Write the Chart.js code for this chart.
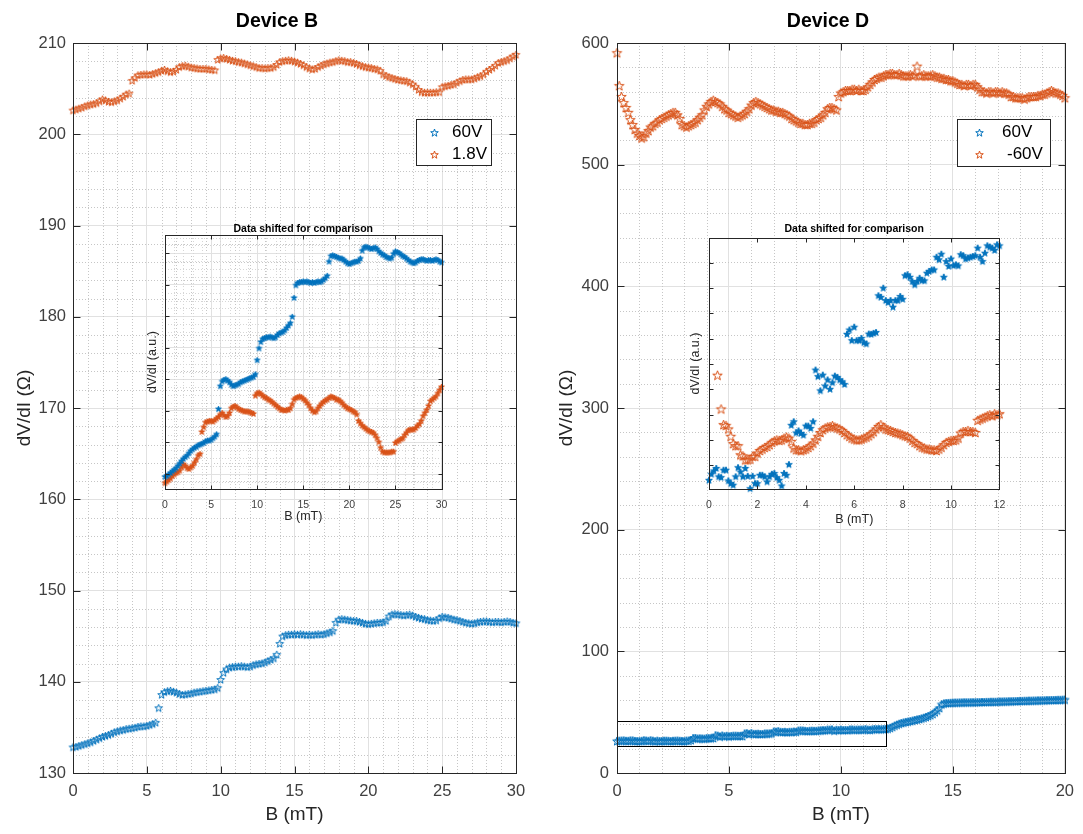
<!DOCTYPE html>
<html lang="en">
<head>
<meta charset="UTF-8">
<title>Device B / Device D</title>
<script src="https://cdn.jsdelivr.net/npm/chart.js"></script>
<style>
  body { margin: 0; background: #fff; }
  .wrap { position: relative; width: 1083px; height: 834px; }
  canvas { position: absolute; }
</style>
</head>
<body>
<div class="wrap">
  <canvas id="mainB" width="545" height="834" style="left:0;top:0"></canvas>
  <canvas id="mainD" width="542" height="834" style="left:541px;top:0"></canvas>
  <canvas id="insetB" width="330" height="318" style="left:130px;top:212px"></canvas>
  <canvas id="insetD" width="345" height="318" style="left:670px;top:212px"></canvas>
</div>

<script>
const FONT = '"Liberation Sans", Arial, Helvetica, sans-serif';
const BLUE = '#0072BD';
const RED = '#D95319';

// Device B: field sweep 0..30 mT, one point every 0.2 mT
const fieldB = Array.from({ length: 151 }, (_, i) => +(i * 0.2).toFixed(1));
const devB_60V = [
  132.85, 132.9, 133.0, 133.1, 133.2, 133.3, 133.4, 133.55, 133.7, 133.85,
  134.0, 134.1, 134.2, 134.35, 134.5, 134.6, 134.7, 134.75, 134.85, 134.9,
  134.95, 135.0, 135.1, 135.15, 135.15, 135.2, 135.3, 135.4, 135.55, 137.15,
  138.6, 138.9, 139.0, 139.05, 138.95, 138.85, 138.7, 138.6, 138.65, 138.7,
  138.75, 138.85, 138.9, 138.95, 139.0, 139.05, 139.1, 139.15, 139.2, 139.35,
  140.25, 141.0, 141.4, 141.6, 141.65, 141.7, 141.7, 141.75, 141.7, 141.65,
  141.7, 141.85, 141.95, 142.0, 142.05, 142.15, 142.3, 142.45, 142.6, 143.0,
  144.2, 145.0, 145.15, 145.2, 145.2, 145.25, 145.2, 145.25, 145.2, 145.15,
  145.2, 145.15, 145.2, 145.25, 145.2, 145.25, 145.35, 145.45, 145.6, 146.5,
  146.85, 146.9, 146.85, 146.8, 146.75, 146.7, 146.7, 146.6, 146.5, 146.4,
  146.35, 146.4, 146.45, 146.5, 146.5, 146.55, 146.7, 147.2, 147.4, 147.45,
  147.4, 147.35, 147.3, 147.35, 147.4, 147.3, 147.15, 147.05, 146.95, 146.9,
  146.8, 146.75, 146.7, 146.75, 147.0, 147.15, 147.1, 147.05, 146.95, 146.85,
  146.8, 146.7, 146.6, 146.5, 146.45, 146.4, 146.45, 146.55, 146.6, 146.65,
  146.65, 146.6, 146.55, 146.6, 146.6, 146.55, 146.6, 146.65, 146.6, 146.5,
  146.45
];
const devB_1p8V = [
  202.65, 202.75, 202.85, 202.95, 203.1, 203.2, 203.3, 203.35, 203.45, 203.65,
  203.85, 203.75, 203.6, 203.55, 203.65, 203.75, 203.95, 204.15, 204.4, 204.5,
  205.9, 206.2, 206.5, 206.55, 206.6, 206.6, 206.55, 206.65, 206.75, 206.85,
  207.0, 207.1, 206.95, 206.85, 206.9, 207.1, 207.4, 207.5, 207.55, 207.45,
  207.35, 207.3, 207.25, 207.2, 207.2, 207.2, 207.15, 207.1, 207.05, 208.2,
  208.35, 208.4, 208.3, 208.2, 208.1, 208.05, 207.95, 207.9, 207.8, 207.7,
  207.6, 207.5, 207.4, 207.3, 207.3, 207.25, 207.3, 207.3, 207.4, 207.65,
  207.95, 208.05, 208.1, 208.15, 208.1, 208.0, 207.9, 207.75, 207.6, 207.4,
  207.25, 207.15, 207.2, 207.4, 207.55, 207.7, 207.8, 207.9, 207.95, 208.05,
  208.15, 208.1, 208.05, 207.95, 207.95, 207.85, 207.75, 207.6, 207.5, 207.4,
  207.35, 207.3, 207.2, 207.15, 207.0, 206.6, 206.45, 206.3, 206.2, 206.1,
  206.0, 205.95, 205.9, 205.85, 205.7, 205.5, 205.25, 204.9, 204.65, 204.6,
  204.6, 204.6, 204.6, 204.65, 204.65, 205.2, 205.3, 205.35, 205.45, 205.5,
  205.7, 205.85, 206.0, 206.05, 206.05, 206.05, 206.15, 206.3, 206.4, 206.6,
  206.9, 207.1, 207.3, 207.55, 207.85, 207.95, 208.05, 208.15, 208.35, 208.55,
  208.75
];
// the 1.8V curve is moved down by this much in the inset
const insetShiftB = 70.2;

// Device D: field sweep 0..20 mT, one point every 0.1 mT
const fieldD = Array.from({ length: 201 }, (_, i) => +(i * 0.1).toFixed(1));
const devD_60V = [
  26.4, 26.6, 26.7, 26.8, 26.5, 26.5, 26.8, 26.8, 26.4, 26.3,
  26.2, 26.5, 26.9, 26.7, 26.5, 26.9, 26.6, 26.1, 26.6, 26.3,
  26.3, 26.6, 26.6, 26.5, 26.3, 26.5, 26.6, 26.7, 26.5, 26.4,
  26.2, 26.7, 26.6, 27.1, 28.7, 28.8, 28.4, 28.5, 28.4, 28.3,
  28.7, 28.7, 28.6, 28.8, 31.0, 30.7, 30.1, 30.8, 30.3, 30.6,
  30.2, 30.5, 30.7, 30.7, 30.6, 30.5, 30.4, 32.5, 32.7, 32.2,
  32.8, 32.2, 32.2, 32.3, 32.1, 32.1, 32.5, 32.5, 32.5, 32.6,
  34.1, 34.0, 34.4, 33.9, 33.8, 33.9, 33.6, 33.9, 33.9, 34.1,
  33.9, 34.9, 35.0, 34.9, 34.7, 34.5, 34.7, 34.8, 34.7, 34.7,
  35.0, 35.1, 35.2, 35.2, 35.7, 35.6, 35.8, 34.9, 35.5, 35.3,
  35.6, 35.3, 35.4, 35.3, 35.8, 35.8, 35.6, 35.7, 35.7, 35.7,
  35.8, 36.1, 35.7, 35.5, 35.9, 36.2, 36.1, 36.1, 36.0, 36.2,
  36.2, 36.5, 37.1, 38.0, 39.0, 39.8, 40.5, 41.1, 41.6, 42.0,
  42.3, 42.7, 43.1, 43.6, 44.0, 44.4, 44.9, 45.5, 46.1, 46.8,
  47.6, 48.6, 50.0, 51.5, 53.5, 56.5, 57.2, 57.5, 57.6, 57.7,
  57.8, 57.9, 57.9, 58.0, 58.0, 58.1, 58.1, 58.1, 58.2, 58.2,
  58.2, 58.3, 58.3, 58.4, 58.4, 58.5, 58.5, 58.6, 58.6, 58.6,
  58.7, 58.8, 58.8, 58.9, 58.9, 59.0, 59.0, 59.1, 59.1, 59.2,
  59.3, 59.3, 59.4, 59.4, 59.5, 59.5, 59.6, 59.6, 59.7, 59.7,
  59.8, 59.8, 59.9, 59.9, 60.0, 60.0, 60.1, 60.2, 60.2, 60.3,
  60.4
];
const devD_m60V = [
  592, 565, 556, 551, 547, 543, 537, 533, 529, 526,
  524, 522, 523, 526, 528, 531, 532, 534, 535, 537,
  538, 539, 540, 541, 542, 543, 543, 541, 538, 533,
  532, 531, 532, 533, 534, 535, 537, 539, 541, 545,
  548, 550, 552, 553, 552, 551, 550, 548, 546, 545,
  543, 542, 541, 540, 539, 540, 541, 542, 544, 546,
  549, 551, 552, 551, 550, 549, 548, 547, 546, 545,
  545, 544, 544, 543, 543, 542, 541, 540, 538, 537,
  536, 535, 534, 534, 533, 533, 534, 534, 535, 537,
  538, 539, 541, 543, 546, 547, 547, 546, 545, 556,
  559, 560, 561, 561, 561, 562, 562, 561, 562, 561,
  561, 562, 564, 566, 568, 570, 571, 572, 572, 573,
  574, 574, 575, 575, 574, 574, 575, 574, 573, 573,
  573, 574, 573, 574, 581, 573, 573, 574, 573, 573,
  573, 574, 573, 572, 572, 571, 571, 570, 570, 569,
  569, 568, 567, 566, 566, 565, 566, 566, 565, 566,
  566, 564, 562, 560, 560, 559, 560, 560, 559, 560,
  560, 559, 560, 559, 559, 558, 556, 556, 555, 555,
  555, 555, 554, 555, 556, 556, 556, 556, 557, 557,
  558, 558, 559, 560, 561, 560, 559, 559, 558, 557,
  555
];

// Device D inset (arbitrary units), 0..12 mT
const insetFieldBlue = Array.from({ length: 121 }, (_, i) => +(i * 0.1).toFixed(1));
const insetBlue = [
  -0.57, -0.33, -0.2, -0.1, -0.43, -0.46, -0.17, -0.17, -0.59, -0.7,
  -0.76, -0.43, -0.07, -0.24, -0.43, -0.1, -0.41, -0.9, -0.41, -0.7,
  -0.7, -0.37, -0.37, -0.43, -0.63, -0.43, -0.33, -0.3, -0.46, -0.57,
  -0.79, -0.3, -0.37, 0.05, 1.6, 1.74, 1.3, 1.38, 1.28, 1.21,
  1.57, 1.57, 1.48, 1.74, 3.78, 3.52, 2.96, 3.58, 3.15, 3.39,
  3.02, 3.28, 3.54, 3.49, 3.39, 3.32, 3.21, 5.19, 5.36, 4.94,
  5.47, 4.94, 4.94, 5.03, 4.86, 4.81, 5.2, 5.19, 5.23, 5.26,
  6.71, 6.65, 7.01, 6.52, 6.44, 6.52, 6.26, 6.52, 6.52, 6.68,
  6.57, 7.5, 7.54, 7.44, 7.27, 7.14, 7.27, 7.4, 7.31, 7.3,
  7.6, 7.67, 7.73, 7.73, 8.23, 8.13, 8.35, 7.44, 8.06, 7.87,
  8.16, 7.9, 7.93, 7.89, 8.33, 8.29, 8.16, 8.2, 8.23, 8.26,
  8.29, 8.59, 8.23, 8.06, 8.39, 8.68, 8.63, 8.59, 8.5, 8.72,
  8.68
];
const insetFieldRed = [0.35, 0.5].concat(Array.from({ length: 115 }, (_, i) => +(0.6 + i * 0.1).toFixed(1)));
const insetRed = [
  3.56, 2.23,
  1.61, 1.58, 1.44, 1.15, 0.86, 0.78, 0.78, 0.42, 0.38, 0.22,
  0.22, 0.25, 0.36, 0.36, 0.49, 0.59, 0.65, 0.71, 0.75, 0.82,
  0.91, 0.97, 1.01, 0.99, 1.01, 1.08, 1.12, 1.08, 0.95, 0.69,
  0.62, 0.62, 0.58, 0.62, 0.65, 0.71, 0.78, 0.88, 1.01, 1.15,
  1.3, 1.41, 1.48, 1.52, 1.54, 1.57, 1.52, 1.48, 1.44, 1.38,
  1.3, 1.21, 1.15, 1.08, 1.04, 1.01, 1.01, 1.04, 1.08, 1.12,
  1.17, 1.25, 1.33, 1.44, 1.54, 1.61, 1.52, 1.44, 1.41, 1.38,
  1.34, 1.3, 1.28, 1.25, 1.21, 1.17, 1.15, 1.08, 0.99, 0.91,
  0.86, 0.78, 0.72, 0.69, 0.65, 0.65, 0.62, 0.62, 0.59, 0.65,
  0.72, 0.82, 0.91, 0.95, 0.99, 0.99, 1.01, 1.08, 1.28, 1.34,
  1.34, 1.38, 1.34, 1.34, 1.3, 1.78, 1.83, 1.87, 1.91, 1.96,
  2.0, 1.96, 2.04, 2.0, 2.04
];

// tick positions of the insets (labels hidden on y)
const insetTicksB = [133, 135, 137, 139, 141, 143, 145, 147];
const insetTicksD = [0, 1, 2, 3, 4, 5, 6, 7, 8];

// pentagram markers
function star(color, size, filled) {
  const c = document.createElement('canvas');
  c.width = c.height = size + 3;
  const g = c.getContext('2d');
  const cx = c.width / 2, cy = c.height / 2 + 0.5, R = size / 2, r = R * 0.4;
  g.beginPath();
  for (let i = 0; i < 10; i++) {
    const ang = -Math.PI / 2 + i * Math.PI / 5;
    const rad = i % 2 ? r : R;
    g.lineTo(cx + rad * Math.cos(ang), cy + rad * Math.sin(ang));
  }
  g.closePath();
  if (filled) { g.fillStyle = color; g.fill(); }
  g.strokeStyle = color;
  g.lineWidth = 1;
  g.stroke();
  return c;
}

const pts = (xs, ys, dy = 0) => xs.map((x, i) => ({ x: x, y: ys[i] - dy }));

function minorValues(scale, step) {
  const out = [];
  for (let k = Math.ceil(scale.min / step - 1e-9); k * step <= scale.max + 1e-9; k++) {
    const v = k * step;
    if (!scale.ticks.some(t => Math.abs(t.value - v) < 1e-6)) out.push(v);
  }
  return out;
}

// matlab-ish axes: dotted minor grid, box, inward ticks, titles, legend
const matlabAxes = {
  id: 'matlabAxes',
  beforeDatasetsDraw(chart, args, o) {
    const { ctx, chartArea: a, scales: { x, y } } = chart;
    if (!o.minorX && !o.minorY) return;
    ctx.save();
    ctx.strokeStyle = o.minorColor || '#c6c6c6';
    ctx.lineWidth = 1;
    ctx.setLineDash([1, 2]);
    ctx.beginPath();
    if (o.minorX) minorValues(x, o.minorX).forEach(v => {
      const p = Math.round(x.getPixelForValue(v)) + 0.5;
      ctx.moveTo(p, a.top); ctx.lineTo(p, a.bottom);
    });
    if (o.minorY) minorValues(y, o.minorY).forEach(v => {
      const p = Math.round(y.getPixelForValue(v)) + 0.5;
      ctx.moveTo(a.left, p); ctx.lineTo(a.right, p);
    });
    ctx.stroke();
    ctx.restore();
  },
  afterDatasetsDraw(chart, args, o) {
    const { ctx, chartArea: a, scales: { x, y } } = chart;
    ctx.save();
    if (o.zoomBox) {
      const zb = o.zoomBox;
      const x0 = Math.round(x.getPixelForValue(zb.x0)) + 0.5, x1 = Math.round(x.getPixelForValue(zb.x1)) + 0.5;
      const y0 = Math.round(y.getPixelForValue(zb.y0)) + 0.5, y1 = Math.round(y.getPixelForValue(zb.y1)) + 0.5;
      ctx.strokeStyle = '#000';
      ctx.lineWidth = 1;
      ctx.strokeRect(x0, y1, x1 - x0, y0 - y1);
    }
    const L = Math.round(a.left) + 0.5, R = Math.round(a.right) + 0.5;
    const T = Math.round(a.top) + 0.5, B = Math.round(a.bottom) + 0.5;
    ctx.strokeStyle = '#262626';
    ctx.lineWidth = 1;
    ctx.strokeRect(L, T, R - L, B - T);
    ctx.beginPath();
    x.ticks.forEach(t => {
      const p = Math.round(x.getPixelForValue(t.value)) + 0.5;
      ctx.moveTo(p, B); ctx.lineTo(p, B - o.tick);
      ctx.moveTo(p, T); ctx.lineTo(p, T + o.tick);
    });
    y.ticks.forEach(t => {
      const p = Math.round(y.getPixelForValue(t.value)) + 0.5;
      ctx.moveTo(L, p); ctx.lineTo(L + o.tick, p);
      ctx.moveTo(R, p); ctx.lineTo(R - o.tick, p);
    });
    ctx.stroke();

    if (o.title) {
      ctx.fillStyle = '#000';
      ctx.font = o.title.font;
      ctx.textAlign = 'center';
      ctx.textBaseline = 'middle';
      const tx = o.title.x !== undefined ? o.title.x : (a.left + a.right) / 2;
      ctx.fillText(o.title.text, tx, o.title.y);
    }
    if (o.legend) {
      const lg = o.legend;
      ctx.fillStyle = '#fff';
      ctx.fillRect(lg.x, lg.y, lg.w, lg.h);
      ctx.strokeStyle = '#262626';
      ctx.strokeRect(lg.x + 0.5, lg.y + 0.5, lg.w, lg.h);
      ctx.font = '17px ' + FONT;
      ctx.fillStyle = '#000';
      ctx.textAlign = 'left';
      ctx.textBaseline = 'middle';
      lg.rows.forEach(r => {
        ctx.drawImage(r.img, Math.round(r.mx - r.img.width / 2), Math.round(r.y - r.img.height / 2));
        ctx.fillText(r.text, r.tx, r.y);
      });
    }
    ctx.restore();
  }
};

function axis(o) {
  return {
    type: 'linear',
    min: o.min,
    max: o.max,
    ticks: {
      stepSize: o.step,
      display: o.labels !== false,
      color: '#404040',
      padding: o.pad || 0,
      font: { family: FONT, size: o.fs }
    },
    grid: { display: o.grid !== false, color: '#e1e1e1', drawTicks: false },
    border: { display: false },
    title: {
      display: !!o.title,
      text: o.title,
      color: '#262626',
      font: { family: FONT, size: o.tfs },
      padding: o.tpad
    },
    afterFit: o.fit,
    afterBuildTicks: o.ticks ? s => { s.ticks = o.ticks.map(v => ({ value: v })); } : undefined
  };
}

function base(padding, axes, scales) {
  return {
    responsive: false,
    animation: false,
    events: [],
    layout: { padding: padding },
    plugins: { legend: { display: false }, tooltip: { enabled: false }, matlabAxes: axes },
    scales: scales
  };
}

const starBlue8 = star(BLUE, 8, false);
const starBlue9 = star(BLUE, 9, false);
const starRed8 = star(RED, 8, false);
const starRed10 = star(RED, 10, false);
const starBlueFill6 = star(BLUE, 6, true);
const starRedFill6 = star(RED, 6, true);
const starBlueFill7 = star(BLUE, 7, true);
const legendBlue = star(BLUE, 8, false);
const legendRed = star(RED, 8, false);

// Device B, main panel
new Chart(document.getElementById('mainB'), {
  type: 'scatter',
  data: {
    datasets: [
      { label: '1.8V', data: pts(fieldB, devB_1p8V), pointStyle: starRed8, pointRadius: 4, clip: false },
      { label: '60V', data: pts(fieldB, devB_60V), pointStyle: starBlue8, pointRadius: 4, clip: false }
    ]
  },
  options: base({ top: 43, right: 29, bottom: 0, left: 0 }, {
    minorX: 1, minorY: 2, tick: 7,
    title: { text: 'Device B', font: 'bold 19.5px ' + FONT, x: 277, y: 22 },
    legend: {
      x: 416, y: 119, w: 75, h: 46,
      rows: [
        { img: legendBlue, mx: 434, tx: 452, y: 132, text: '60V' },
        { img: legendRed, mx: 434, tx: 452, y: 154, text: '1.8V' }
      ]
    }
  }, {
    x: axis({ min: 0, max: 30, step: 5, fs: 16.5, pad: 9, title: 'B (mT)', tfs: 19,
              tpad: { top: 0, bottom: 7.6 }, fit: s => { s.height = 61; } }),
    y: axis({ min: 130, max: 210, step: 10, fs: 16.5, pad: 7, title: 'dV/dI (\u03A9)', tfs: 19,
              tpad: { top: 13.6, bottom: 0 }, fit: s => { s.width = 73; } })
  }),
  plugins: [matlabAxes]
});

// Device D, main panel
new Chart(document.getElementById('mainD'), {
  type: 'scatter',
  data: {
    datasets: [
      { label: '-60V', data: pts(fieldD, devD_m60V), pointStyle: starRed10, pointRadius: 5, clip: false },
      { label: '60V', data: pts(fieldD, devD_60V), pointStyle: starBlue9, pointRadius: 4, clip: false }
    ]
  },
  options: base({ top: 43, right: 14, bottom: 0, left: 0 }, {
    minorX: 1, minorY: 20, tick: 7,
    zoomBox: { x0: 0, x1: 12, y0: 22, y1: 43 },
    title: { text: 'Device D', font: 'bold 19.5px ' + FONT, x: 287, y: 22 },
    legend: {
      x: 416, y: 119, w: 93, h: 47,
      rows: [
        { img: legendBlue, mx: 438, tx: 461, y: 132, text: '60V' },
        { img: legendRed, mx: 438, tx: 466, y: 154, text: '-60V' }
      ]
    }
  }, {
    x: axis({ min: 0, max: 20, step: 5, fs: 16.5, pad: 9, title: 'B (mT)', tfs: 19,
              tpad: { top: 0, bottom: 7.6 }, fit: s => { s.height = 61; } }),
    y: axis({ min: 0, max: 600, step: 100, fs: 16.5, pad: 8, title: 'dV/dI (\u03A9)', tfs: 19,
              tpad: { top: 14.6, bottom: 0 }, fit: s => { s.width = 76; } })
  }),
  plugins: [matlabAxes]
});

// Device B inset: same data, 1.8V shifted down
new Chart(document.getElementById('insetB'), {
  type: 'scatter',
  data: {
    datasets: [
      { label: '60V', data: pts(fieldB, devB_60V), pointStyle: starBlueFill6, pointRadius: 3, clip: false },
      { label: '1.8V', data: pts(fieldB, devB_1p8V, insetShiftB), pointStyle: starRedFill6, pointRadius: 3, clip: false }
    ]
  },
  options: base({ top: 23, right: 18.5, bottom: 0, left: 0 }, {
    minorX: 1, minorY: 0.5, tick: 4, minorColor: '#d6d6d6',
    title: { text: 'Data shifted for comparison', font: 'bold 10.5px ' + FONT, y: 17 }
  }, {
    x: axis({ min: 0, max: 30, step: 5, fs: 10.5, pad: 9.7, title: 'B (mT)', tfs: 12.5,
              tpad: { top: 0, bottom: 5.5 }, fit: s => { s.height = 41; } }),
    y: axis({ min: 132.05, max: 148.16, ticks: insetTicksB, labels: false, fs: 10.5, title: 'dV/dI (a.u.)', tfs: 12.5,
              tpad: { top: 15.5, bottom: 0 }, fit: s => { s.width = 35; } })
  }),
  plugins: [matlabAxes]
});

// Device D inset
new Chart(document.getElementById('insetD'), {
  type: 'scatter',
  data: {
    datasets: [
      { label: '60V', data: pts(insetFieldBlue, insetBlue), pointStyle: starBlueFill7, pointRadius: 3, clip: false },
      { label: '-60V', data: pts(insetFieldRed, insetRed), pointStyle: starRed10, pointRadius: 5, clip: false }
    ]
  },
  options: base({ top: 26, right: 14.3, bottom: 0, left: 0 }, {
    tick: 4,
    title: { text: 'Data shifted for comparison', font: 'bold 10.5px ' + FONT, y: 17 }
  }, {
    x: axis({ min: 0, max: 12, step: 2, fs: 10.5, pad: 9.7, grid: false, title: 'B (mT)', tfs: 12.5,
              tpad: { top: 0, bottom: 2.5 }, fit: s => { s.height = 41; } }),
    y: axis({ min: -0.93, max: 8.97, ticks: insetTicksD, labels: false, grid: false, fs: 10.5, title: 'dV/dI (a.u.)', tfs: 12.5,
              tpad: { top: 18.5, bottom: 0 }, fit: s => { s.width = 39; } })
  }),
  plugins: [matlabAxes]
});
</script>
</body>
</html>
